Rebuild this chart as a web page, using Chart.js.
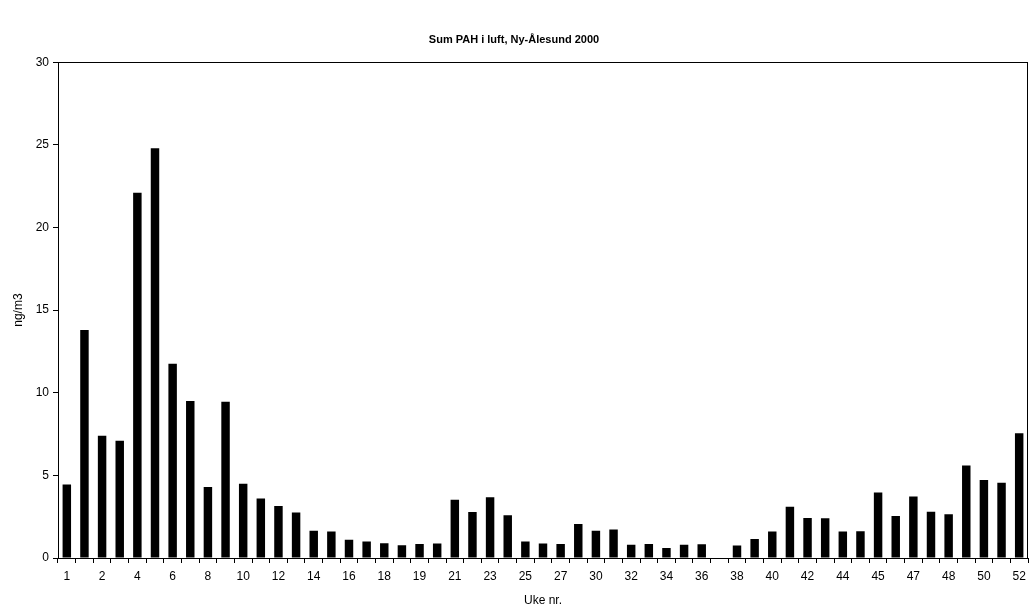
<!DOCTYPE html>
<html>
<head>
<meta charset="utf-8">
<script src="https://cdn.jsdelivr.net/npm/chart.js@4.4.1/dist/chart.umd.min.js"></script>
<style>
  html, body { margin: 0; padding: 0; background: #fff; }
  #wrap { width: 1029px; height: 612px; }
</style>
</head>
<body>
<div id="wrap"><canvas id="pah" width="1029" height="612"></canvas></div>
<script>
// week labels as on the sheet (some weeks have two samples, week 29 missing)
const weeks = ['1', '1', '2', '3', '4', '5', '6', '7', '8', '9', '10', '11', '12', '13', '14', '15', '16', '17', '18', '18',
    '19', '20', '21', '22', '23', '24', '25', '26', '27', '28', '30', '31', '32', '33', '34', '35', '36', '37', '38', '39',
    '40', '41', '42', '43', '44', '44', '45', '46', '47', '47', '48', '49', '50', '51', '52'];

// Sum PAH, ng/m3
const pah = [4.45, 13.8, 7.4, 7.1, 22.1, 24.8, 11.75, 9.5, 4.3, 9.45, 4.5, 3.6, 3.15, 2.75, 1.65, 1.6, 1.1, 1.0, 0.9, 0.77,
    0.85, 0.88, 3.53, 2.78, 3.68, 2.58, 1.0, 0.88, 0.85, 2.05, 1.65, 1.72, 0.8, 0.85, 0.6, 0.8, 0.83, null, 0.75, 1.15,
    1.6, 3.1, 2.42, 2.4, 1.6, 1.62, 3.97, 2.54, 3.72, 2.8, 2.64, 5.6, 4.72, 4.55, 7.55];

const yTicks = [0, 5, 10, 15, 20, 25, 30];

const font = 'Arial, "Liberation Sans", sans-serif';

// Excel-style closed plot box
const boxPlugin = {
    id: 'box',
    afterDraw(chart) {
        const a = chart.chartArea;
        const c = chart.ctx;
        c.save();
        c.strokeStyle = '#000';
        c.lineWidth = 1;
        c.strokeRect(Math.round(a.left) + 0.5, Math.round(a.top) + 0.5, Math.round(a.right - a.left) - 1, Math.round(a.bottom - a.top));
        c.restore();
    }
};

new Chart(document.getElementById('pah'), {
    type: 'bar',
    data: {
        labels: weeks,
        datasets: [{
            label: 'Sum PAH',
            data: pah,
            backgroundColor: '#000',
            borderWidth: 0,
            categoryPercentage: 1,
            barPercentage: 0.48,
        }]
    },
    options: {
        responsive: false,
        animation: false,
        layout: { padding: { left: 0, right: 1, top: 0, bottom: 0 } },
        plugins: {
            legend: { display: false },
            tooltip: { enabled: false },
            title: {
                display: true,
                text: 'Sum PAH i luft, Ny-Ålesund 2000',
                color: '#000',
                font: { family: font, size: 11, weight: 'bold' },
                padding: { top: 33, bottom: 16 }
            }
        },
        scales: {
            x: {
                offset: true,
                grid: { offset: true, drawOnChartArea: false, tickLength: 5, color: '#000' },
                border: { color: '#000' },
                ticks: {
                    autoSkip: false,
                    maxRotation: 0,
                    color: '#000',
                    padding: 6,
                    font: { family: font, size: 12 },
                    callback: (v, i) => (i % 2 === 0 ? weeks[i] : '')
                },
                title: {
                    display: true,
                    text: 'Uke nr.',
                    color: '#000',
                    font: { family: font, size: 12 },
                    padding: { top: 4, bottom: 4 }
                },
                afterFit: (s) => { s.height = 54; s.paddingLeft = 0; s.paddingRight = 0; }
            },
            y: {
                min: 0,
                max: 30,
                afterBuildTicks: (s) => { s.ticks = yTicks.map(v => ({ value: v })); },
                grid: { drawOnChartArea: false, tickLength: 5, color: '#000' },
                border: { color: '#000' },
                ticks: {
                    color: '#000',
                    padding: 4,
                    font: { family: font, size: 12 }
                },
                title: {
                    display: true,
                    text: 'ng/m3',
                    color: '#000',
                    font: { family: font, size: 12 },
                    padding: { top: 11, bottom: 4 }
                },
                afterFit: (s) => { s.width = 58; }
            }
        }
    },
    plugins: [boxPlugin]
});
</script>
</body>
</html>
